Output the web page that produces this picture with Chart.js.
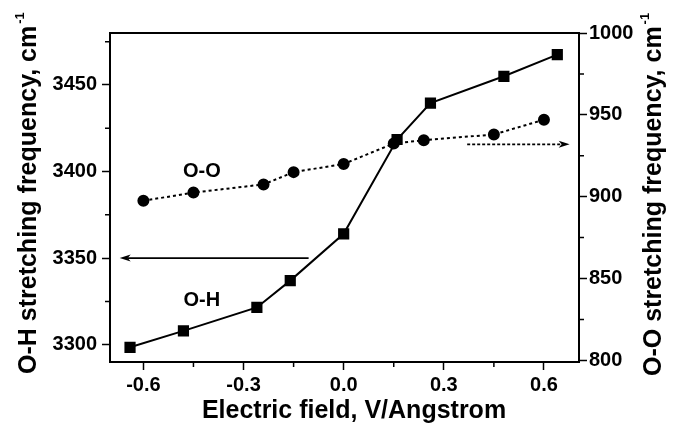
<!DOCTYPE html>
<html>
<head>
<meta charset="utf-8">
<script src="https://cdn.jsdelivr.net/npm/chart.js@4/dist/chart.umd.min.js"></script>
<style>
  html, body { margin: 0; padding: 0; background: #fff; }
  #chart { display: block; }
</style>
</head>
<body>
<canvas id="chart" width="673" height="424"></canvas>
<script>
// O-H stretching (left axis), squares, solid line
const ohField = [-0.64, -0.48, -0.26, -0.16, 0.0, 0.16, 0.26, 0.48, 0.64];
const ohFreq = [3298.5, 3308, 3321.5, 3337, 3364, 3418.5, 3439.5, 3455, 3467.5];

// O-O stretching (right axis), circles, dotted line
const ooField = [-0.6, -0.45, -0.24, -0.15, 0.0, 0.15, 0.24, 0.45, 0.6];
const ooFreq = [897.5, 902.5, 907.5, 915, 920, 932.5, 934.5, 938, 947];

// ticks
const xMajor = [-0.6, -0.3, 0.0, 0.3, 0.6];
const xMinor = [-0.45, -0.15, 0.15, 0.45];
const ohMajor = [3300, 3350, 3400, 3450];
const ohMinor = [3325, 3375, 3425, 3475];
const ooMajor = [800, 850, 900, 950, 1000];
const ooMinor = [825, 875, 925, 975];

const FONT = "'Liberation Sans', Arial, sans-serif";

// text labels and arrows (in data units)
const seriesLabels = [
    {text: 'O-O', x: -0.425, y: 3400, axis: 'y'},
    {text: 'O-H', x: -0.425, y: 3325.5, axis: 'y'}
];
const arrows = [
    {axis: 'y', from: [-0.105, 3350], to: [-0.671, 3350], dash: []},
    {axis: 'y2', from: [0.37, 932], to: [0.677, 932], dash: [3, 2]}
];

const setTicks = (values) => (scale) => {
    scale.ticks = values.map(v => ({value: v}));
};

const toPoints = (xs, ys) => xs.map((x, i) => ({x: x, y: ys[i]}));

const decorPlugin = {
    id: 'decor',
    afterDatasetsDraw(chart) {
        const ctx = chart.ctx;
        const area = chart.chartArea;
        const sx = chart.scales.x;
        ctx.save();
        ctx.strokeStyle = '#000';
        ctx.fillStyle = '#000';
        // top frame line
        ctx.lineWidth = 2;
        ctx.beginPath();
        ctx.moveTo(area.left - 1, area.top);
        ctx.lineTo(area.right + 1, area.top);
        ctx.stroke();

        // minor ticks (shorter than the major ones)
        ctx.lineWidth = 1.5;
        ctx.beginPath();
        xMinor.forEach(v => {
            const px = sx.getPixelForValue(v);
            ctx.moveTo(px, area.bottom);
            ctx.lineTo(px, area.bottom + 5);
        });
        ohMinor.forEach(v => {
            const py = chart.scales.y.getPixelForValue(v);
            ctx.moveTo(area.left, py);
            ctx.lineTo(area.left - 5, py);
        });
        ooMinor.forEach(v => {
            const py = chart.scales.y2.getPixelForValue(v);
            ctx.moveTo(area.right, py);
            ctx.lineTo(area.right + 5, py);
        });
        ctx.stroke();

        // series labels
        ctx.font = 'bold 20px ' + FONT;
        ctx.textAlign = 'center';
        ctx.textBaseline = 'middle';
        seriesLabels.forEach(l => {
            ctx.fillText(l.text, sx.getPixelForValue(l.x), chart.scales[l.axis].getPixelForValue(l.y));
        });

        // arrows
        arrows.forEach(a => {
            const sy = chart.scales[a.axis];
            const x1 = sx.getPixelForValue(a.from[0]), y1 = sy.getPixelForValue(a.from[1]);
            const x2 = sx.getPixelForValue(a.to[0]), y2 = sy.getPixelForValue(a.to[1]);
            const dir = Math.sign(x2 - x1);
            ctx.setLineDash(a.dash);
            ctx.lineWidth = 1.8;
            ctx.beginPath();
            ctx.moveTo(x1, y1);
            ctx.lineTo(x2 - dir * 8, y2);
            ctx.stroke();
            ctx.setLineDash([]);
            ctx.beginPath();
            ctx.moveTo(x2, y2);
            ctx.lineTo(x2 - dir * 11, y2 - 3.5);
            ctx.lineTo(x2 - dir * 8, y2);
            ctx.lineTo(x2 - dir * 11, y2 + 3.5);
            ctx.closePath();
            ctx.fill();
        });
        ctx.restore();
    },
    afterDraw(chart) {
        const ctx = chart.ctx;
        ctx.save();
        ctx.fillStyle = '#000';
        // x title
        ctx.font = 'bold 25px ' + FONT;
        ctx.textAlign = 'center';
        ctx.textBaseline = 'alphabetic';
        ctx.fillText('Electric field, V/Angstrom', 354, 418);

        const vTitle = (text, bx, by) => {
            ctx.save();
            ctx.translate(bx, by);
            ctx.rotate(-Math.PI / 2);
            ctx.textAlign = 'left';
            ctx.font = 'bold 25px ' + FONT;
            ctx.fillText(text, 0, 0);
            const w = ctx.measureText(text).width;
            ctx.font = 'bold 13px ' + FONT;
            ctx.fillText('-1', w + 2, -12);
            ctx.restore();
        };
        vTitle('O-H stretching frequency, cm', 36, 374);
        vTitle('O-O stretching frequency, cm', 661, 376);
        ctx.restore();
    }
};

const tickFont = {family: FONT, size: 20, weight: 'bold'};
const gridOpts = {drawOnChartArea: false, drawTicks: true, tickLength: 8, tickColor: '#000', tickWidth: 1.5};
const borderOpts = {color: '#000', width: 2};

new Chart(document.getElementById('chart'), {
    type: 'scatter',
    data: {
        datasets: [{
            label: 'O-H',
            data: toPoints(ohField, ohFreq),
            yAxisID: 'y',
            showLine: true,
            borderColor: '#000',
            backgroundColor: '#000',
            borderWidth: 2,
            pointStyle: 'rect',
            pointRadius: 6.5,
            tension: 0
        }, {
            label: 'O-O',
            data: toPoints(ooField, ooFreq),
            yAxisID: 'y2',
            showLine: true,
            borderColor: '#000',
            backgroundColor: '#000',
            borderWidth: 2,
            borderDash: [3, 3],
            pointStyle: 'circle',
            pointRadius: 5,
            tension: 0
        }]
    },
    options: {
        responsive: false,
        animation: false,
        layout: {padding: {top: 33, left: 0, right: 0, bottom: 0}},
        plugins: {legend: {display: false}, tooltip: {enabled: false}},
        scales: {
            x: {
                type: 'linear',
                min: -0.7,
                max: 0.705,
                afterBuildTicks: setTicks(xMajor),
                afterFit: (s) => { s.height = 62; },
                grid: gridOpts,
                border: borderOpts,
                ticks: {
                    font: tickFont, color: '#000', padding: 3, maxRotation: 0, autoSkip: false,
                    callback: (v) => v.toFixed(1)
                }
            },
            y: {
                position: 'left',
                min: 3290,
                max: 3480,
                afterBuildTicks: setTicks(ohMajor),
                afterFit: (s) => { s.width = 110; },
                grid: gridOpts,
                border: borderOpts,
                ticks: {font: tickFont, color: '#000', padding: 5, autoSkip: false, callback: (v) => String(v)}
            },
            y2: {
                position: 'right',
                min: 799,
                max: 1000,
                afterBuildTicks: setTicks(ooMajor),
                afterFit: (s) => { s.width = 94; },
                grid: gridOpts,
                border: borderOpts,
                ticks: {font: tickFont, color: '#000', padding: 2, autoSkip: false, callback: (v) => String(v)}
            }
        }
    },
    plugins: [decorPlugin]
});
</script>
</body>
</html>
